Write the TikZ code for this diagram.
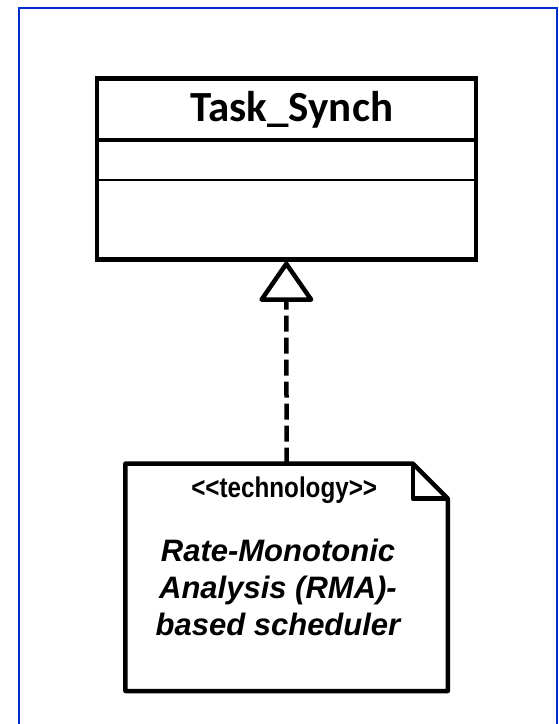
\documentclass[tikz,border=0pt]{standalone}
\usepackage{fontspec}
\setmainfont{Liberation Sans}
\newfontfamily\clsfont{Carlito}
\newfontfamily\narrowfont[FakeStretch=0.85]{Liberation Sans}
\usetikzlibrary{arrows.meta}
\definecolor{frameblue}{RGB}{0,45,205}

\begin{document}
\begin{tikzpicture}[x=1pt,y=-1pt,
  classbox/.style={draw,line width=4.5pt,minimum width=379pt,minimum height=181pt,inner sep=0pt},
  notebox/.style={minimum width=322pt,minimum height=227pt,inner sep=0pt},
  realize/.style={line width=4.5pt,dash pattern=on 16pt off 6pt,
    -{Triangle[open,round,length=42pt,width=57pt]}}]
\useasboundingbox (0,0) rectangle (559,724);
% frame
\draw[frameblue,line width=2pt] (19,726) -- (19,8) -- (557,8) -- (557,726);
% class
\node[classbox] (cls) at (286.3,168.8) {};
\node[anchor=base,font=\clsfont\bfseries\fontsize{43}{50}\selectfont] (clsname) at (291.7,121.7) {Task\_Synch};
\draw[line width=4pt] (cls.west |- 0,140) -- (cls.east |- 0,140);
\draw[line width=2pt] (cls.west |- 0,180.3) -- (cls.east |- 0,180.3);
% note
\node[notebox] (note) at (286.6,577.3) {};
\draw[line width=4.5pt,line join=round] (note.north west) -- ([xshift=-35pt]note.north east)
  -- ([yshift=-35pt]note.north east) -- (note.south east) -- (note.south west) -- cycle;
\draw[line width=4.5pt,line join=round] ([xshift=-35pt]note.north east) |- ([yshift=-35pt]note.north east);
\node[anchor=base,font=\narrowfont\bfseries\fontsize{28.5}{34}\selectfont] (stereo) at (284.2,497.7) {<{}<technology>{}>};
\node[anchor=base,align=center,font=\bfseries\itshape\fontsize{31}{36.7}\selectfont] (notetext) at (278,635)
  {Rate-Monotonic\\Analysis (RMA)-\\based scheduler};
% realization
\draw[realize] (note.north) -- (cls.south);
\end{tikzpicture}
\end{document}
